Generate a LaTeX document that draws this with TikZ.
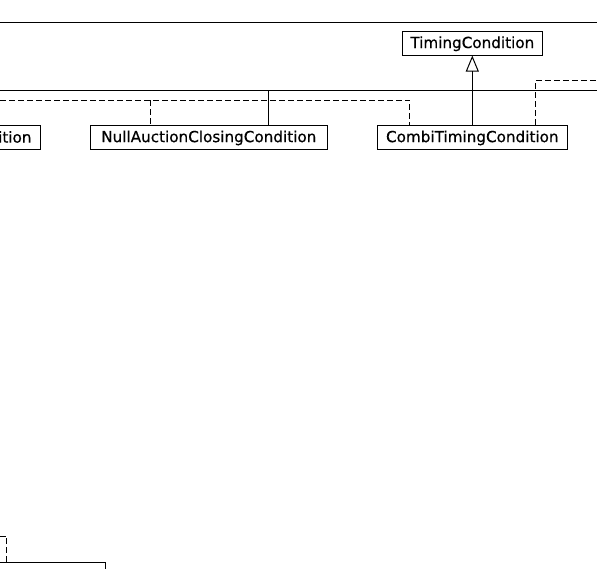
\documentclass[tikz,border=0pt]{standalone}
\usepackage{fontspec}
\setmainfont{DejaVu Sans}[BoldFont=DejaVu Sans,BoldFeatures={FakeBold=0.5}]
\usetikzlibrary{arrows.meta}
\begin{document}
\begin{tikzpicture}[x=1pt,y=-1pt,
  cls/.style={draw,line width=1pt,inner sep=0pt,minimum height=24pt,text height=12.4pt,text depth=2.8pt,font=\fontsize{15.2}{17}\selectfont\bfseries,fill=white},
  solidln/.style={line width=1pt},
  dashln/.style={line width=1pt,dash pattern=on 6pt off 3pt},
  gen/.style={line width=1pt,-{Triangle[open,length=16pt,width=13pt,line width=1pt]}}]
\useasboundingbox (0,0) rectangle (597,568);
\begin{scope}
\clip (0,0) rectangle (597,568);
% frame lines
\coordinate (tl) at (0,22);
\coordinate (tr) at (597,22);
\draw[solidln] (tl) -- (tr);
\coordinate (hl) at (0,90);
\coordinate (hr) at (597,90);
\draw[solidln] (hl) -- (hr);
% classes
\node[cls,minimum width=140pt,minimum height=23.7pt] (timing) at (472.3,43.2) {TimingCondition};
\node[cls,minimum width=237pt] (null) at (208.8,137.3) {NullAuctionClosingCondition};
\node[cls,minimum width=190pt] (combi) at (472.3,137.3) {CombiTimingCondition};
\node[cls,minimum width=140.7pt,anchor=north east,text width=123.3pt,align=right] (left) at (40.7,125.3) {ition};
\node[cls,minimum width=205.7pt,minimum height=30pt,anchor=north east] (bottom) at (105.7,561.7) {};
% generalization
\draw[gen] (combi.north) -- (timing.south);
% solid vertical
\coordinate (nv) at (268.3,90);
\draw[solidln] (nv) -- (null.north -| nv);
% dashed dependencies
\coordinate (dl) at (0,100);
\draw[dashln] (dl) -- (409.7,100) -- (combi.north -| 409.7,0);
\coordinate (nd) at (150.7,100);
\draw[dashln] (nd) -- (null.north -| nd);
\coordinate (dr) at (597,80);
\draw[dashln] (combi.north -| 535.7,0) -- (535.7,80) -- (dr);
\coordinate (bl) at (0,536);
\draw[dashln] (bl) -- (6.7,536) -- (bottom.north -| 6.7,0);
\end{scope}
\end{tikzpicture}
\end{document}
